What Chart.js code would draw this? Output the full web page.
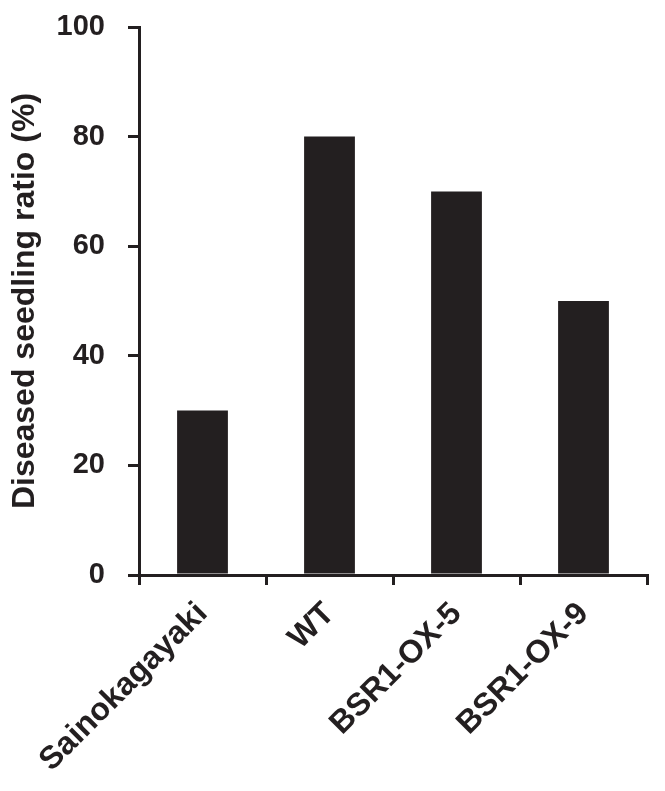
<!DOCTYPE html>
<html>
<head>
<meta charset="utf-8">
<script src="https://cdn.jsdelivr.net/npm/chart.js@4/dist/chart.umd.min.js"></script>
<style>
  html, body { margin: 0; padding: 0; background: #fff; }
  #wrap { width: 665px; height: 791px; }
</style>
</head>
<body>
<div id="wrap"><canvas id="ratioChart"></canvas></div>
<script>
const categories = ["Sainokagayaki", "WT", "BSR1-OX-5", "BSR1-OX-9"];
const diseasedRatio = [30, 80, 70, 50];
const yTicks = [0, 20, 40, 60, 80, 100];

const ink = "#231f20";

document.addEventListener("DOMContentLoaded", () => {
  const ctx = document.getElementById("ratioChart").getContext("2d");
  new Chart(ctx, {
    type: "bar",
    data: {
      labels: categories,
      datasets: [
        {
          label: "Diseased seedling ratio (%)",
          data: diseasedRatio,
          backgroundColor: ink,
          borderWidth: 0,
          barPercentage: 0.4,
          categoryPercentage: 1.0,
        },
      ],
    },
    options: {
      responsive: true,
      maintainAspectRatio: false,
      animation: false,
      layout: { padding: { top: 27, right: 18, left: 0, bottom: 0 } },
      plugins: {
        legend: { display: false },
        tooltip: { enabled: false },
      },
      scales: {
        x: {
          offset: true,
          afterFit: (s) => { s.height = 216; s.paddingLeft = 0; s.paddingRight = 0; },
          border: { display: true, color: ink, width: 3 },
          grid: {
            offset: true,
            drawOnChartArea: false,
            drawTicks: true,
            tickLength: 10,
            color: ink,
            lineWidth: 3,
          },
          ticks: {
            color: ink,
            minRotation: 45,
            maxRotation: 45,
            padding: 10,
            font: { family: "Liberation Sans, Arial, sans-serif", size: 32, weight: "bold" },
          },
        },
        y: {
          min: 0,
          max: 100,
          afterFit: (s) => { s.width = 139; s.paddingTop = 0; s.paddingBottom = 0; },
          afterBuildTicks: (s) => { s.ticks = yTicks.map((v) => ({ value: v })); },
          border: { display: true, color: ink, width: 3 },
          grid: {
            drawOnChartArea: false,
            drawTicks: true,
            tickLength: 11,
            color: ink,
            lineWidth: 3,
          },
          ticks: {
            color: ink,
            padding: 23,
            font: { family: "Liberation Sans, Arial, sans-serif", size: 29, weight: "bold" },
          },
          title: {
            display: true,
            text: "Diseased seedling ratio (%)",
            color: ink,
            padding: { top: 6, bottom: 0 },
            font: { family: "Liberation Sans, Arial, sans-serif", size: 32, weight: "bold" },
          },
        },
      },
    },
  });
});
</script>
</body>
</html>
